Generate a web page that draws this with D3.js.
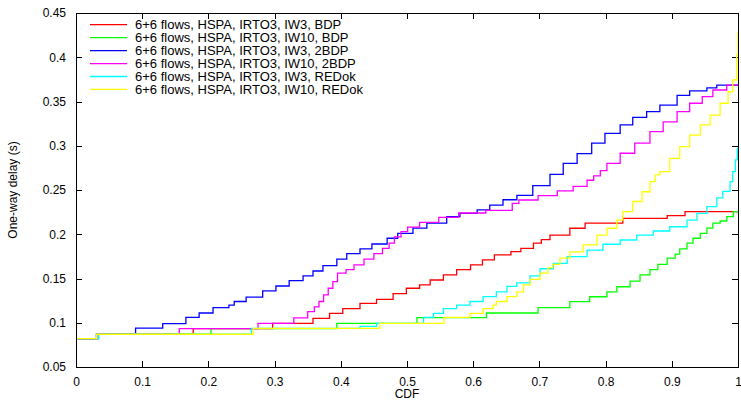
<!DOCTYPE html>
<html>
<head>
<meta charset="utf-8">
<script src="https://cdn.jsdelivr.net/npm/d3@7"></script>
<style>
  html, body { margin: 0; padding: 0; background: #fff; }
  svg { display: block; font-family: "Liberation Sans", Arial, sans-serif; }
</style>
</head>
<body>
<svg id="chart" width="741" height="403"></svg>
<script>
// One-way delay CDFs, [cdf, delay (s)] at each step of the staircase
const iw3Bdp = [[0,0.082],[0.031,0.087],[0.177,0.0934],[0.297,0.0994],[0.358,0.105],[0.383,0.1106],[0.403,0.116],[0.429,0.122],[0.454,0.1265],[0.479,0.133],[0.499,0.139],[0.519,0.1427],[0.535,0.1483],[0.555,0.154],[0.575,0.16],[0.596,0.1653],[0.614,0.171],[0.632,0.1766],[0.657,0.1803],[0.672,0.184],[0.691,0.19],[0.703,0.194],[0.716,0.199],[0.746,0.2068],[0.769,0.2125],[0.826,0.218],[0.893,0.221],[0.92,0.2256],[1,0.2256]];
const iw10Bdp = [[0,0.082],[0.031,0.087],[0.204,0.0934],[0.394,0.0994],[0.515,0.1057],[0.62,0.111],[0.698,0.117],[0.746,0.1238],[0.776,0.1294],[0.802,0.135],[0.817,0.1407],[0.837,0.147],[0.852,0.154],[0.867,0.16],[0.879,0.166],[0.893,0.173],[0.905,0.1775],[0.912,0.1835],[0.923,0.19],[0.932,0.1955],[0.943,0.201],[0.953,0.207],[0.962,0.2125],[0.973,0.215],[0.983,0.22],[0.993,0.2256],[1,0.2256]];
const iw3Bdp2 = [[0,0.082],[0.034,0.087],[0.09,0.094],[0.131,0.099],[0.166,0.106],[0.186,0.111],[0.207,0.117],[0.231,0.12],[0.239,0.124],[0.257,0.129],[0.282,0.136],[0.302,0.1415],[0.322,0.1475],[0.343,0.153],[0.358,0.1585],[0.373,0.1645],[0.394,0.172],[0.409,0.178],[0.429,0.1835],[0.447,0.189],[0.47,0.1955],[0.486,0.201],[0.509,0.207],[0.53,0.2125],[0.56,0.22],[0.58,0.2235],[0.606,0.2275],[0.625,0.233],[0.645,0.239],[0.666,0.244],[0.69,0.255],[0.716,0.2677],[0.736,0.28],[0.757,0.291],[0.779,0.303],[0.799,0.314],[0.822,0.3235],[0.841,0.332],[0.862,0.3385],[0.882,0.346],[0.908,0.357],[0.927,0.362],[0.953,0.3655],[0.968,0.3685],[1,0.3685]];
const iw10Bdp2 = [[0,0.082],[0.031,0.087],[0.156,0.0934],[0.275,0.0994],[0.329,0.1055],[0.35,0.1126],[0.36,0.118],[0.367,0.124],[0.374,0.1315],[0.381,0.139],[0.388,0.1465],[0.395,0.156],[0.408,0.16],[0.42,0.1653],[0.435,0.172],[0.45,0.178],[0.463,0.184],[0.473,0.19],[0.481,0.197],[0.491,0.203],[0.501,0.208],[0.519,0.2135],[0.548,0.219],[0.578,0.224],[0.619,0.227],[0.659,0.235],[0.669,0.2387],[0.698,0.2436],[0.727,0.249],[0.751,0.254],[0.772,0.261],[0.782,0.266],[0.792,0.272],[0.802,0.28],[0.822,0.2915],[0.844,0.303],[0.867,0.316],[0.887,0.327],[0.908,0.3385],[0.927,0.348],[0.946,0.3555],[0.962,0.363],[0.983,0.3686],[1,0.3686]];
const iw3Redok = [[0,0.082],[0.034,0.087],[0.265,0.0937],[0.429,0.096],[0.454,0.0994],[0.525,0.106],[0.54,0.1107],[0.555,0.116],[0.575,0.12],[0.595,0.124],[0.615,0.1295],[0.635,0.135],[0.651,0.141],[0.666,0.145],[0.686,0.153],[0.701,0.161],[0.721,0.167],[0.742,0.1747],[0.772,0.182],[0.796,0.1887],[0.822,0.1935],[0.847,0.199],[0.872,0.2037],[0.897,0.2085],[0.923,0.216],[0.938,0.2237],[0.953,0.2313],[0.968,0.241],[0.977,0.2485],[0.988,0.2595],[0.992,0.2707],[0.996,0.284],[0.999,0.297],[1,0.297]];
const iw10Redok = [[0,0.082],[0.031,0.087],[0.268,0.0937],[0.459,0.0994],[0.556,0.106],[0.595,0.1107],[0.615,0.116],[0.63,0.12],[0.635,0.124],[0.651,0.1295],[0.666,0.135],[0.676,0.1427],[0.686,0.149],[0.701,0.156],[0.713,0.162],[0.72,0.166],[0.731,0.173],[0.746,0.18],[0.766,0.188],[0.787,0.199],[0.802,0.2068],[0.817,0.216],[0.826,0.2255],[0.841,0.237],[0.855,0.248],[0.867,0.2595],[0.875,0.267],[0.882,0.2707],[0.897,0.2857],[0.912,0.299],[0.927,0.312],[0.943,0.3235],[0.958,0.3347],[0.973,0.348],[0.985,0.361],[0.992,0.3743],[0.998,0.4026],[1,0.429]];

const seriesNames = [
  "6+6 flows, HSPA, IRTO3, IW3, BDP",
  "6+6 flows, HSPA, IRTO3, IW10, BDP",
  "6+6 flows, HSPA, IRTO3, IW3, 2BDP",
  "6+6 flows, HSPA, IRTO3, IW10, 2BDP",
  "6+6 flows, HSPA, IRTO3, IW3, REDok",
  "6+6 flows, HSPA, IRTO3, IW10, REDok"
];
const seriesValues = [iw3Bdp, iw10Bdp, iw3Bdp2, iw10Bdp2, iw3Redok, iw10Redok];
const seriesColors = ["#ff0000", "#00ff00", "#0000ff", "#ff00ff", "#00ffff", "#ffff00"];

const xTicks = [0, 0.1, 0.2, 0.3, 0.4, 0.5, 0.6, 0.7, 0.8, 0.9, 1];
const yTicks = [0.05, 0.1, 0.15, 0.2, 0.25, 0.3, 0.35, 0.4, 0.45];
const xTitle = "CDF";
const yTitle = "One-way delay (s)";

const margin = { left: 76, right: 3, top: 13, bottom: 36 };
const W = 741, H = 403;
const iw = W - margin.left - margin.right;
const ih = H - margin.top - margin.bottom;

const svg = d3.select("#chart");
const g = svg.append("g").attr("transform", `translate(${margin.left},${margin.top})`);

const x = d3.scaleLinear().domain([0, 1]).range([0, iw]);
const y = d3.scaleLinear().domain([0.05, 0.45]).range([ih, 0]);

const fmt = d => d3.format("")(+d.toFixed(2));
const tickLen = 6;

// bottom / left axes with inward ticks
const xAxis = g.append("g").attr("transform", `translate(0,${ih})`)
  .call(d3.axisBottom(x).tickValues(xTicks).tickFormat(fmt).tickSizeInner(-tickLen).tickSizeOuter(0).tickPadding(10));
const yAxis = g.append("g")
  .call(d3.axisLeft(y).tickValues(yTicks).tickFormat(fmt).tickSizeInner(-tickLen).tickSizeOuter(0).tickPadding(10));
// mirrored ticks on top / right
const xAxisTop = g.append("g")
  .call(d3.axisTop(x).tickValues(xTicks).tickFormat("").tickSizeInner(-tickLen).tickSizeOuter(0));
const yAxisRight = g.append("g").attr("transform", `translate(${iw},0)`)
  .call(d3.axisRight(y).tickValues(yTicks).tickFormat("").tickSizeInner(-tickLen).tickSizeOuter(0));

[xAxis, yAxis, xAxisTop, yAxisRight].forEach(a => {
  a.select(".domain").remove();
  a.selectAll(".tick line").attr("stroke", "#000").attr("shape-rendering", "crispEdges");
  a.selectAll(".tick text").attr("font-size", 12).attr("fill", "#000")
    .attr("font-family", "'Liberation Sans', Arial, sans-serif");
});

// series lines
const line = d3.line()
  .x(d => x(d[0]))
  .y(d => y(d[1]))
  .curve(d3.curveStepAfter);

g.append("g").selectAll("path")
  .data(seriesValues)
  .join("path")
  .attr("d", line)
  .attr("fill", "none")
  .attr("stroke", (d, i) => seriesColors[i])
  .attr("stroke-width", 1.3);

// plot frame
g.append("rect")
  .attr("x", 0).attr("y", 0).attr("width", iw).attr("height", ih)
  .attr("fill", "none").attr("stroke", "#000").attr("stroke-width", 1)
  .attr("shape-rendering", "crispEdges");

// legend
const legend = g.append("g").attr("transform", "translate(14,11.7)");
const rowH = 12.95;
seriesNames.forEach((name, i) => {
  const row = legend.append("g").attr("transform", `translate(0,${i * rowH})`);
  row.append("line").attr("x1", 0).attr("x2", 37).attr("y1", 0).attr("y2", 0)
    .attr("stroke", seriesColors[i]).attr("stroke-width", 1.3);
  row.append("text").attr("x", 45).attr("y", 0).attr("dy", "0.35em")
    .attr("font-size", 13).attr("fill", "#000").text(name);
});

// axis titles
svg.append("text")
  .attr("x", margin.left + iw / 2).attr("y", 398)
  .attr("text-anchor", "middle").attr("font-size", 12).attr("fill", "#000")
  .text(xTitle);
svg.append("text")
  .attr("transform", `translate(17,${margin.top + ih / 2}) rotate(-90)`)
  .attr("text-anchor", "middle").attr("font-size", 12).attr("fill", "#000")
  .text(yTitle);
</script>
</body>
</html>
